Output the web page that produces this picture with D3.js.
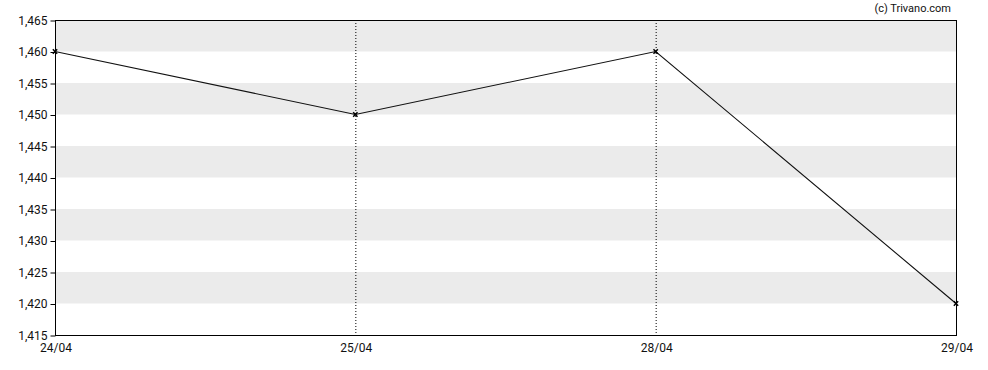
<!DOCTYPE html>
<html>
<head>
<meta charset="utf-8">
<script src="https://cdn.jsdelivr.net/npm/d3@7"></script>
<style>
  body { margin: 0; background: #fff; }
  text { font-family: Roboto, "Liberation Sans", sans-serif; font-size: 11px; fill: #111; }
</style>
</head>
<body>
<svg id="chart" width="988" height="370"></svg>
<script>
const dates = ['24/04', '25/04', '28/04', '29/04'];
const prices = [1460, 1450, 1460, 1420];
const yTicks = [1415, 1420, 1425, 1430, 1435, 1440, 1445, 1450, 1455, 1460, 1465];

const margin = { top: 20, right: 32, bottom: 35, left: 55 };
const width = 988, height = 370;

const svg = d3.select('#chart');

var x = d3.scalePoint()
  .domain(dates)
  .range([margin.left, width - margin.right]);

var y = d3.scaleLinear()
  .domain([1415, 1465])
  .range([height - margin.bottom, margin.top]);

var fmt = d3.format(',');

// alternating bands
var bands = yTicks.slice(0, -1).filter(function (d, i) { return i % 2 === 1; });
svg.append('g')
  .selectAll('rect')
  .data(bands)
  .enter()
  .append('rect')
  .attr('x', margin.left)
  .attr('width', width - margin.right - margin.left)
  .attr('y', function (d) { return y(d + 5); })
  .attr('height', function (d) { return y(d) - y(d + 5); })
  .attr('fill', '#ebebeb');

// dotted verticals for inner dates
svg.append('g')
  .selectAll('line')
  .data(dates.slice(1, -1))
  .enter()
  .append('line')
  .attr('x1', function (d) { return x(d) + 0.5; })
  .attr('x2', function (d) { return x(d) + 0.5; })
  .attr('y1', margin.top)
  .attr('y2', height - margin.bottom)
  .attr('stroke', '#000')
  .attr('stroke-dasharray', '1,2');

// frame
svg.append('rect')
  .attr('x', margin.left + 0.5)
  .attr('y', margin.top + 0.5)
  .attr('width', width - margin.right - margin.left)
  .attr('height', height - margin.bottom - margin.top)
  .attr('fill', 'none')
  .attr('stroke', '#000');

// axes
var yAxis = svg.append('g')
  .attr('transform', 'translate(' + (margin.left + 0.5) + ',0.5)')
  .call(d3.axisLeft(y).tickValues(yTicks).tickFormat(fmt).tickSize(5).tickPadding(3));
yAxis.select('.domain').remove();

var xAxis = svg.append('g')
  .attr('transform', 'translate(0.5,' + (height - margin.bottom + 0.5) + ')')
  .call(d3.axisBottom(x).tickSize(0).tickPadding(8));
xAxis.select('.domain').remove();

svg.selectAll('.tick text').style('font-size', '12px').attr('fill', '#111');
svg.selectAll('.tick line').attr('stroke', '#000');

// price line
var pts = dates.map(function (d, i) { return [x(d), y(prices[i])]; });
svg.append('path')
  .datum(pts)
  .attr('d', d3.line())
  .attr('fill', 'none')
  .attr('stroke', '#111')
  .attr('stroke-width', 1.1);

// x markers
svg.append('g')
  .selectAll('path')
  .data(pts)
  .enter()
  .append('path')
  .attr('d', d3.symbol(d3.symbolX, 14))
  .attr('transform', function (p) { return 'translate(' + p[0] + ',' + p[1] + ')'; })
  .attr('stroke', '#000')
  .attr('stroke-width', 1.5);

svg.append('text')
  .attr('x', 951)
  .attr('y', 12)
  .attr('text-anchor', 'end')
  .text('(c) Trivano.com');
</script>
</body>
</html>
